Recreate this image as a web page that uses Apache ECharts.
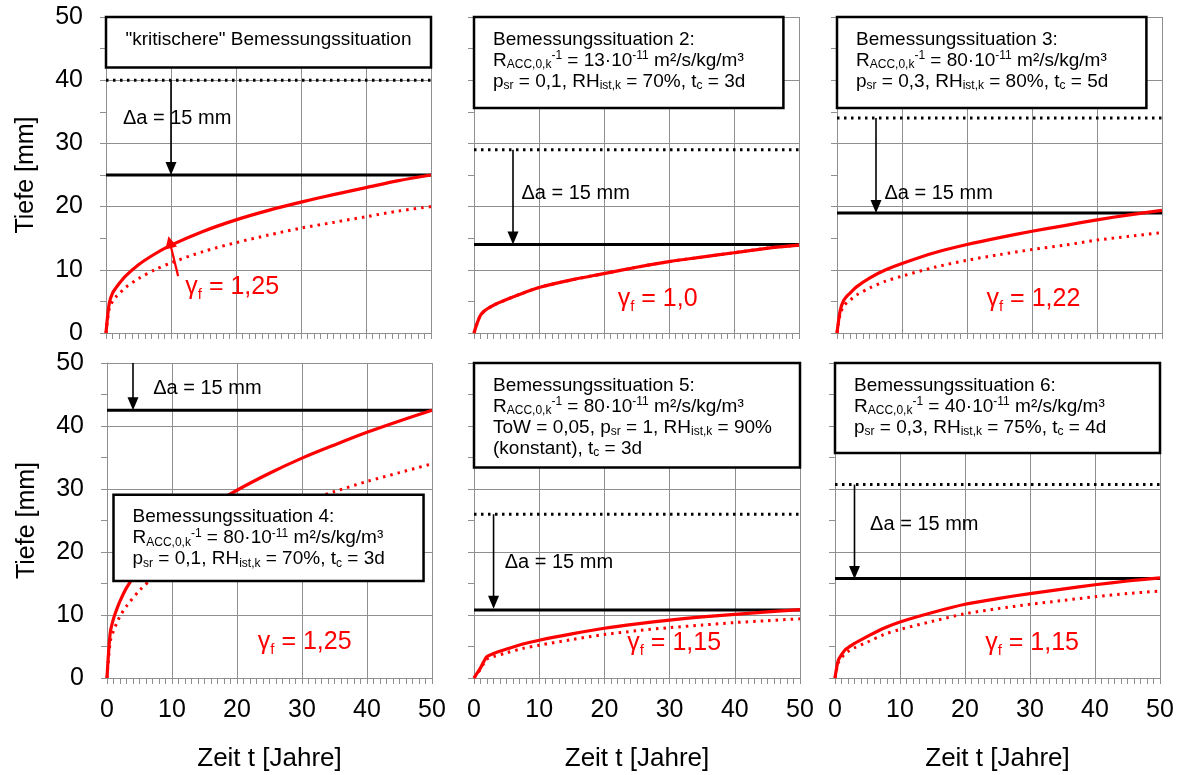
<!DOCTYPE html>
<html>
<head>
<meta charset="utf-8">
<script src="https://cdn.jsdelivr.net/npm/echarts@6/dist/echarts.min.js"></script>
<style>
  html, body { margin: 0; padding: 0; background: #fff; }
  #c { width: 1185px; height: 775px; }
</style>
</head>
<body>
<div id="c"></div>
<script>
// ---- data -------------------------------------------------------------
// time axis (years) shared by every curve
const years = [0, 0.5, 1, 1.5, 2, 3, 5, 7.5, 10, 15, 20, 25, 30, 35, 40, 45, 50];

// carbonation depth with partial safety factor (solid red), mm
const depthDesign1 = [0, 4.7, 6.3, 7.1, 7.8, 9.0, 10.8, 12.5, 13.9, 16.1, 17.9, 19.4, 20.7, 21.9, 23.0, 24.1, 25.0];
const depthDesign2 = [0, 1.6, 2.8, 3.4, 3.8, 4.4, 5.3, 6.3, 7.2, 8.4, 9.4, 10.4, 11.3, 12.0, 12.7, 13.4, 13.9];
const depthDesign3 = [0, 3.6, 5.1, 5.8, 6.3, 7.3, 8.7, 10.0, 11.0, 12.7, 14.0, 15.1, 16.1, 17.0, 17.9, 18.7, 19.4];
const depthDesign4 = [0, 7.2, 9.4, 10.9, 12.2, 14.3, 17.4, 20.4, 22.8, 26.7, 29.8, 32.5, 34.9, 37.0, 39.0, 40.8, 42.5];
const depthDesign5 = [0, 0.8, 1.6, 2.6, 3.4, 3.9, 4.6, 5.4, 6.0, 7.0, 7.9, 8.6, 9.2, 9.7, 10.1, 10.5, 10.85];
const depthDesign6 = [0, 2.8, 3.7, 4.4, 4.8, 5.5, 6.6, 7.9, 8.9, 10.4, 11.7, 12.6, 13.4, 14.1, 14.8, 15.4, 15.9];

// carbonation depth without safety factor (dotted red), mm
const depthMean1 = [0, 3.8, 5.0, 5.7, 6.2, 7.2, 8.6, 10.0, 11.1, 12.9, 14.3, 15.5, 16.6, 17.5, 18.4, 19.3, 20.0];
const depthMean2 = [0, 1.6, 2.8, 3.4, 3.8, 4.4, 5.3, 6.3, 7.2, 8.4, 9.4, 10.4, 11.3, 12.0, 12.7, 13.4, 13.9];
const depthMean3 = [0, 3.0, 4.2, 4.8, 5.2, 6.0, 7.1, 8.2, 9.0, 10.4, 11.5, 12.4, 13.2, 13.9, 14.7, 15.3, 15.9];
const depthMean4 = [0, 5.8, 7.5, 8.7, 9.8, 11.4, 13.9, 16.3, 18.2, 21.4, 23.8, 26.0, 27.9, 29.6, 31.2, 32.6, 34.0];
const depthMean5 = [0, 0.7, 1.4, 2.3, 3.0, 3.4, 4.0, 4.7, 5.2, 6.1, 6.9, 7.5, 8.0, 8.4, 8.8, 9.1, 9.4];
const depthMean6 = [0, 2.4, 3.2, 3.8, 4.2, 4.8, 5.7, 6.9, 7.7, 9.0, 10.2, 11.0, 11.7, 12.3, 12.9, 13.4, 13.8];

// cover levels: required cover (dotted black) and reduced cover (solid black), mm
const coverRequired = [40, 29, 34, null, 26, 30.7];
const coverReduced  = [25, 14, 19, 42.5, 10.8, 15.8];
const coverDelta = 15;

// partial safety factors written next to the curves
const gammaValues = ['1,25', '1,0', '1,22', '1,25', '1,15', '1,15'];

// text of the boxes (rich text: sub / sup)
const boxLines = [
  ['"kritischere" Bemessungssituation'],
  ['Bemessungssituation 2:',
   'R{sub|ACC,0,k}{sup|-1} = 13·10{sup|-11} m²/s/kg/m³',
   'p{sub|sr} = 0,1, RH{sub|ist,k} = 70%, t{sub|c} = 3d'],
  ['Bemessungssituation 3:',
   'R{sub|ACC,0,k}{sup|-1} = 80·10{sup|-11} m²/s/kg/m³',
   'p{sub|sr} = 0,3, RH{sub|ist,k} = 80%, t{sub|c} = 5d'],
  ['Bemessungssituation 4:',
   'R{sub|ACC,0,k}{sup|-1} = 80·10{sup|-11} m²/s/kg/m³',
   'p{sub|sr} = 0,1, RH{sub|ist,k} = 70%, t{sub|c} = 3d'],
  ['Bemessungssituation 5:',
   'R{sub|ACC,0,k}{sup|-1} = 80·10{sup|-11} m²/s/kg/m³',
   'ToW = 0,05, p{sub|sr} = 1, RH{sub|ist,k} = 90%',
   '(konstant), t{sub|c} = 3d'],
  ['Bemessungssituation 6:',
   'R{sub|ACC,0,k}{sup|-1} = 40·10{sup|-11} m²/s/kg/m³',
   'p{sub|sr} = 0,3, RH{sub|ist,k} = 75%, t{sub|c} = 4d']
];

const xAxisTitle = 'Zeit t [Jahre]';
const yAxisTitle = 'Tiefe [mm]';

const depthDesign = [depthDesign1, depthDesign2, depthDesign3, depthDesign4, depthDesign5, depthDesign6];
const depthMean = [depthMean1, depthMean2, depthMean3, depthMean4, depthMean5, depthMean6];

// ---- layout -------------------------------------------------------------
const FONT = '"Liberation Sans", Arial, Helvetica, sans-serif';
const GRID_COLOR = '#8f8f8f';
const RED = '#ff0000';

const grids = [
  { left: 106, top: 17,  width: 325, height: 316 },
  { left: 474, top: 17,  width: 325, height: 316 },
  { left: 837, top: 17,  width: 325, height: 316 },
  { left: 107, top: 363, width: 325, height: 315 },
  { left: 474, top: 363, width: 326, height: 315 },
  { left: 835, top: 363, width: 325, height: 315 }
];

// annotation placement in axis units
const boxAt   = [[0, 42, 50, 50], [0, 35.6, 47.6, 50], [0, 35.6, 47.6, 50],
                 [1.0, 15.4, 48.7, 29.1], [0, 33.4, 50, 50], [0, 35.7, 50, 50]];
const arrowX  = [10, 6, 6, 4, 3, 3];
const arrowTop = [null, null, null, 50, null, null];
const deltaAt = [[2.6, 34], [7.3, 22], [7.3, 22.1], [7.1, 46], [4.7, 18.4], [5.4, 24.3]];
const gammaAt = [[12.2, 7.2], [22.1, 5.3], [23.0, 5.3], [23.2, 5.7], [23.5, 5.5], [23.1, 5.5]];

const pair = (xs, ys) => xs.map((x, k) => [x, ys[k]]);

const option = {
  backgroundColor: '#fff',
  animation: false,
  textStyle: { fontFamily: FONT },
  grid: grids.map(g => Object.assign({ containLabel: false }, g)),
  xAxis: grids.map((g, i) => {
    const bottom = i >= 3;
    return {
      type: 'value', gridIndex: i, min: 0, max: 50, interval: 10,
      axisLine: { show: true, onZero: false, lineStyle: { color: GRID_COLOR, width: 1 } },
      axisTick: { show: true, length: 6, lineStyle: { color: GRID_COLOR, width: 1 } },
      minorTick: { show: true, splitNumber: 10, length: 6, lineStyle: { color: GRID_COLOR, width: 1 } },
      splitLine: { show: true, lineStyle: { color: GRID_COLOR, width: 1 } },
      axisLabel: { show: bottom, fontSize: 25, color: '#000', margin: 20, fontFamily: FONT },
      name: bottom ? xAxisTitle : '',
      nameLocation: 'middle', nameGap: 68,
      nameTextStyle: { fontSize: 26, color: '#000', fontFamily: FONT }
    };
  }),
  yAxis: grids.map((g, i) => {
    const left = i % 3 === 0;
    return {
      type: 'value', gridIndex: i, min: 0, max: 50, interval: 10,
      axisLine: { show: true, lineStyle: { color: GRID_COLOR, width: 1 } },
      axisTick: { show: true, length: 6, lineStyle: { color: GRID_COLOR, width: 1 } },
      minorTick: { show: true, splitNumber: 2, length: 6, lineStyle: { color: GRID_COLOR, width: 1 } },
      splitLine: { show: true, lineStyle: { color: GRID_COLOR, width: 1 } },
      axisLabel: { show: left, fontSize: 25, color: '#000', margin: 23, fontFamily: FONT },
      name: left ? yAxisTitle : '',
      nameLocation: 'middle', nameGap: 67, nameRotate: 90,
      nameTextStyle: { fontSize: 25, color: '#000', fontFamily: FONT }
    };
  }),
  series: []
};

grids.forEach((g, i) => {
  const ax = { xAxisIndex: i, yAxisIndex: i, showSymbol: false, symbol: 'none', silent: true, clip: true };
  if (coverRequired[i] != null) {
    option.series.push(Object.assign({
      type: 'line', z: 3,
      data: [[0, coverRequired[i]], [50, coverRequired[i]]],
      lineStyle: { color: '#000', width: 3, type: [2.5, 4.5], cap: 'butt' }
    }, ax));
  }
  option.series.push(Object.assign({
    type: 'line', z: 3,
    data: [[0, coverReduced[i]], [50, coverReduced[i]]],
    lineStyle: { color: '#000', width: 3 }
  }, ax));
  option.series.push(Object.assign({
    type: 'line', z: 4, smooth: 0.3,
    data: pair(years, depthMean[i]),
    lineStyle: { color: RED, width: 3, type: [2.5, 5], cap: 'butt', join: 'round' }
  }, ax));
  option.series.push(Object.assign({
    type: 'line', z: 5, smooth: 0.3,
    data: pair(years, depthDesign[i]),
    lineStyle: { color: RED, width: 3.2, join: 'round' }
  }, ax));
});

const chart = echarts.init(document.getElementById('c'), null, { renderer: 'canvas' });
chart.setOption(option);

// ---- annotations placed through the axis scales ---------------------------
const toPx = (i, x, y) => chart.convertToPixel({ gridIndex: i }, [x, y]);

function arrow(p1, p2, color, lw, headW, headL, z) {
  const dx = p2[0] - p1[0], dy = p2[1] - p1[1];
  const len = Math.sqrt(dx * dx + dy * dy);
  const ux = dx / len, uy = dy / len;
  const bx = p2[0] - ux * headL, by = p2[1] - uy * headL;
  const nx = -uy * headW / 2, ny = ux * headW / 2;
  return [
    { type: 'line', z: z, silent: true,
      shape: { x1: p1[0], y1: p1[1], x2: bx + ux, y2: by + uy },
      style: { stroke: color, lineWidth: lw } },
    { type: 'polygon', z: z, silent: true,
      shape: { points: [[p2[0], p2[1]], [bx + nx, by + ny], [bx - nx, by - ny]] },
      style: { fill: color } }
  ];
}

const subStyle = { fontSize: 12, lineHeight: 9, verticalAlign: 'bottom', fontFamily: FONT, fill: '#000' };
const supStyle = { fontSize: 12, lineHeight: 10, verticalAlign: 'top', fontFamily: FONT, fill: '#000' };

const graphics = [];
grids.forEach((g, i) => {
  // text box
  const b = boxAt[i];
  const tl = toPx(i, b[0], b[3]);
  const br = toPx(i, b[2], b[1]);
  graphics.push({
    type: 'rect', z: 100, silent: true,
    shape: { x: tl[0], y: tl[1], width: br[0] - tl[0], height: br[1] - tl[1] },
    style: { fill: '#fff', stroke: '#000', lineWidth: 2.5 }
  });
  const centered = boxLines[i].length === 1;
  graphics.push({
    type: 'text', z: 101, silent: true,
    x: centered ? (tl[0] + br[0]) / 2 : tl[0] + 19,
    y: centered ? tl[1] + 23 : tl[1] + 12,
    style: {
      text: boxLines[i].join('\n'),
      fontSize: 19, fontFamily: FONT, fill: '#000', lineHeight: 21,
      align: centered ? 'center' : 'left',
      verticalAlign: centered ? 'middle' : 'top',
      rich: { sub: subStyle, sup: supStyle }
    }
  });

  // cover reduction arrow
  const yFrom = arrowTop[i] != null ? arrowTop[i] : coverRequired[i];
  const yEnd = arrowTop[i] != null ? coverReduced[i] : yFrom - coverDelta;
  arrow(toPx(i, arrowX[i], yFrom), toPx(i, arrowX[i], yEnd), '#000', 1.6, 11, 13, 60)
    .forEach(e => graphics.push(e));

  // Δa label
  const d = toPx(i, deltaAt[i][0], deltaAt[i][1]);
  graphics.push({
    type: 'text', z: 61, silent: true, x: d[0], y: d[1],
    style: { text: 'Δa = ' + coverDelta + ' mm', fontSize: 20, fontFamily: FONT, fill: '#000',
             align: 'left', verticalAlign: 'middle' }
  });

  // γf label
  const gp = toPx(i, gammaAt[i][0], gammaAt[i][1]);
  graphics.push({
    type: 'text', z: 61, silent: true, x: gp[0], y: gp[1],
    style: {
      text: 'γ{f|f} = ' + gammaValues[i],
      fontSize: 25, fontFamily: FONT, fill: RED, lineHeight: 30,
      align: 'left', verticalAlign: 'middle',
      rich: { f: { fontSize: 15, lineHeight: 12, verticalAlign: 'bottom', fontFamily: FONT, fill: RED } }
    }
  });
});

// factor arrow between the two curves of the first panel
arrow(toPx(0, 11.1, 9.0), toPx(0, 9.6, 15.3), RED, 2.2, 12, 12, 62).forEach(e => graphics.push(e));

chart.setOption({ graphic: graphics });
</script>
</body>
</html>
